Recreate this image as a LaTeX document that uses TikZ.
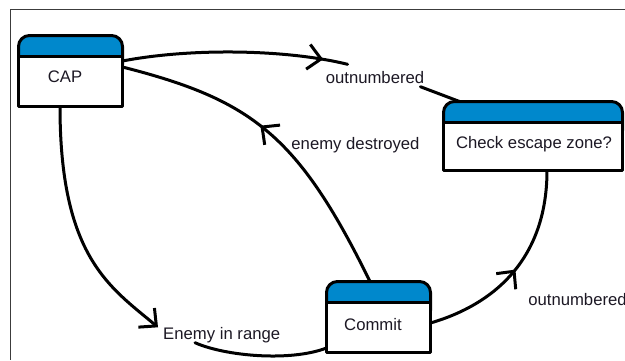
\documentclass[tikz,border=0pt]{standalone}
\usepackage{fontspec}
\setmainfont{Liberation Sans}
\usetikzlibrary{arrows.meta,calc,decorations.markings}

\definecolor{hdrblue}{RGB}{0,136,204}
\definecolor{txt}{RGB}{28,24,36}
\definecolor{framegray}{RGB}{60,60,60}

\tikzset{
  state/.style={draw=none, inner sep=0pt, outer sep=0pt},
  boxline/.style={draw=black, line width=3pt, line join=round},
  lbl/.style={font=\fontsize{16.7}{20}\selectfont, text=txt, inner sep=3pt,
              text height=12pt, text depth=0pt, anchor=base},
  conn/.style={draw=black, line width=3pt, line cap=round},
  >={Straight Barb[length=13pt,width=25pt,line width=3pt]},
  midarrow/.style={postaction={decorate},
    decoration={markings, mark=at position #1 with {\arrow{>}}}},
}

% box with a blue header strip and rounded top corners
\newcommand\drawstate[1]{%
  \draw[boxline, fill=hdrblue, rounded corners=11pt]
    (#1.north west) rectangle ($(#1.north east)+(0,40)$);
  \draw[boxline, fill=white]
    ($(#1.north west)+(0,20.5)$) rectangle (#1.south east);
}

\begin{document}
\begin{tikzpicture}[x=1pt, y=-1pt]
\useasboundingbox (0,0) rectangle (625,360);

% frame
\draw[framegray, line width=1pt] (625,9) -- (10,9) -- (10,360);

% states
\node[state, minimum width=104pt, minimum height=71pt] (cap) at (70.5,71) {};
\node[state, minimum width=179pt, minimum height=69pt] (chk) at (533,136) {};
\node[state, minimum width=104pt, minimum height=71pt] (com) at (378.5,317) {};

\drawstate{cap}
\drawstate{chk}
\drawstate{com}

\node[lbl] (capt) at ($(cap.center)+(-5.5,11.7)$) {CAP};
\node[lbl] (chkt) at ($(chk.center)+(1,12.3)$) {Check escape zone?};
\node[lbl] (comt) at ($(com.center)+(-5.5,13)$) {Commit};

% transition labels
\node[lbl, text height=16pt] (labA) at (375,83.5) {outnumbered};
\node[lbl] (labB) at (355.5,149.5) {enemy destroyed};
\node[lbl] (labC) at (221.7,339.5) {Enemy in range};
\node[lbl] (labD) at (577.5,305) {outnumbered};

% CAP -> Check escape zone?
\draw[conn, midarrow=0.89] ($(cap.east)+(0,-10)$)
  .. controls (190,48) and (285,49) .. ($(labA.north west)+(25,0)$);
\draw[conn] ($(labA.south east)+(-7,0)$) -- ($(chk.north west)+(16,0)$);

% Commit -> CAP
\draw[conn, midarrow=0.56] ($(com.north)+(-8.5,0)$)
  .. controls (298,135) and (252,100) .. ($(cap.east)+(0,-4)$);

% CAP -> Commit
\draw[conn, ->] ($(cap.south)+(-10.5,0)$)
  .. controls (60,257) and (110,287) .. ($(labC.north west)+(-2,3)$);
\draw[conn] ($(labC.south west)+(35,0)$)
  .. controls (225,356) and (290,362) .. ($(com.west)+(0,31)$);

% Commit -> Check escape zone?
\draw[conn, midarrow=0.49] ($(com.east)+(0,6)$)
  .. controls (502,302) and (547,252) .. ($(chk.south)+(14,0)$);
\end{tikzpicture}
\end{document}
